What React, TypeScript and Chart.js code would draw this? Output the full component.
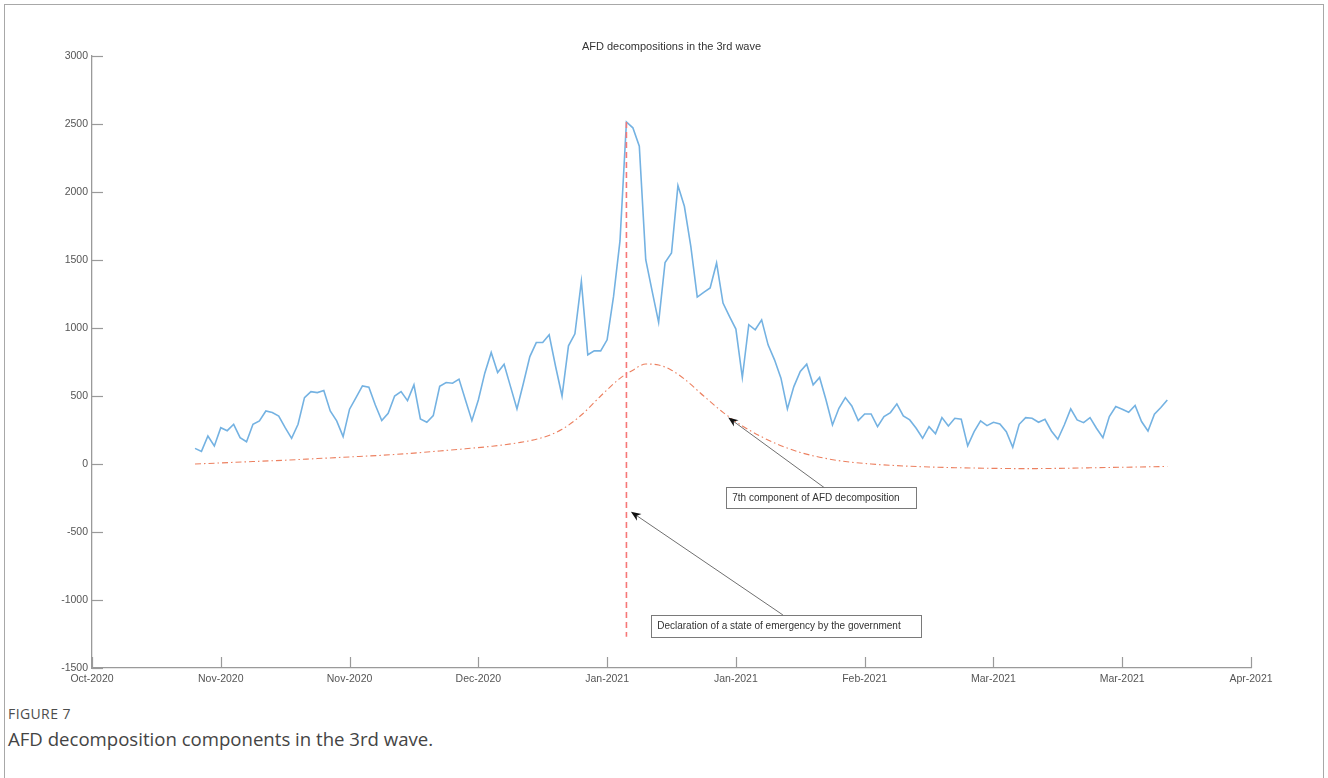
import React, { useEffect, useRef } from "react";
import { Chart, registerables } from "chart.js";

Chart.register(...registerables);

// ---- data ----
const tickLabels = [
  "Oct-2020", "Nov-2020", "Nov-2020", "Dec-2020", "Jan-2021",
  "Jan-2021", "Feb-2021", "Mar-2021", "Mar-2021", "Apr-2021",
];
const daysPerTick = 20;
const firstDay = 16;

// daily new cases, one value per day starting at firstDay
const dailyCases = [
  115, 93, 206, 133, 267, 245, 292, 194, 164, 292,
  317, 390, 378, 353, 267, 189, 292, 488, 532, 525,
  540, 390, 317, 201, 403, 488, 574, 565, 434, 319,
  373, 500, 532, 466, 582, 331, 307, 356, 572, 599,
  594, 624, 471, 319, 471, 668, 820, 673, 734, 569,
  405, 594, 790, 893, 893, 950, 717, 500, 869, 957,
  1342, 803, 832, 832, 913, 1232, 1640, 2515, 2472, 2337,
  1502, 1269, 1041, 1482, 1551, 2047, 1895, 1600, 1227, 1262,
  1294, 1478, 1183, 1085, 992, 636, 1024, 987, 1060, 876,
  766, 631, 405, 569, 680, 734, 582, 636, 471, 287,
  410, 488, 427, 319, 368, 368, 275, 349, 378, 442,
  353, 324, 263, 189, 275, 223, 341, 280, 336, 329,
  133, 238, 317, 282, 307, 295, 238, 123, 292, 341,
  336, 307, 329, 243, 182, 287, 405, 324, 304, 341,
  263, 194, 349, 422, 403, 381, 430, 312, 243, 366,
  415, 471,
];

// 7th AFD component (smooth trend)
const componentDays = [
  16, 20, 25, 30, 35, 40, 45, 50, 54, 58, 62, 66, 70, 73, 76, 79, 82, 84,
  86, 88, 90, 92, 95, 98, 101, 104, 107, 110, 113, 117, 121, 125, 130, 135,
  140, 145, 150, 155, 160, 167,
];
const componentValues = [
  0, 8, 18, 28, 40, 52, 64, 80, 96, 112, 130, 155, 195, 255, 360, 500, 630, 690,
  735, 728, 690, 625, 500, 380, 280, 200, 135, 85, 50, 18, 0, -12, -22, -28,
  -32, -34, -32, -28, -24, -18,
];

// declaration of the state of emergency
const emergencyDay = 83;
const emergencyRange = [2515, -1270];

const yMin = -1500;
const yMax = 3000;
const yStep = 500;

const titleText = "AFD decompositions in the 3rd wave";

// callouts, positioned in axis units (day, value)
const notes = [
  {
    text: "7th component of AFD decomposition",
    box: { x0: 98.5, x1: 128.05, yTop: -171, yBottom: -329 },
    from: { x: 113.7, y: -173 },
    to: { x: 98.8, y: 342 },
  },
  {
    text: "Declaration of a state of emergency by the government",
    box: { x0: 86.85, x1: 128.8, yTop: -1110, yBottom: -1270 },
    from: { x: 107.3, y: -1110 },
    to: { x: 83.7, y: -351 },
  },
];

const FONT = "'Liberation Sans', Arial, Helvetica, sans-serif";
const AXIS_COLOR = "#9a9a9a";
const TICK_TEXT = "#555555";

const overlayPlugin = {
  id: "overlay",
  afterDraw(chart: any) {
    const { ctx, chartArea, scales } = chart;
    const x = scales.x;
    const y = scales.y;
    ctx.save();

    // inward tick marks
    ctx.strokeStyle = AXIS_COLOR;
    ctx.lineWidth = 1.2;
    const tickLen = 11;
    y.ticks.forEach((t: any) => {
      const py = Math.round(y.getPixelForValue(t.value)) + 0.5;
      ctx.beginPath();
      ctx.moveTo(chartArea.left, py);
      ctx.lineTo(chartArea.left + tickLen, py);
      ctx.stroke();
    });
    x.ticks.forEach((t: any) => {
      const px = Math.round(x.getPixelForValue(t.value)) + 0.5;
      ctx.beginPath();
      ctx.moveTo(px, chartArea.bottom);
      ctx.lineTo(px, chartArea.bottom - tickLen);
      ctx.stroke();
    });

    // title
    ctx.fillStyle = "#333333";
    ctx.font = `11px ${FONT}`;
    ctx.textAlign = "center";
    ctx.textBaseline = "middle";
    ctx.fillText(titleText, (chartArea.left + chartArea.right) / 2, chartArea.top - 9);

    // callouts
    notes.forEach((n) => {
      const bx0 = x.getPixelForValue(n.box.x0);
      const bx1 = x.getPixelForValue(n.box.x1);
      const by0 = y.getPixelForValue(n.box.yTop);
      const by1 = y.getPixelForValue(n.box.yBottom);
      ctx.fillStyle = "#ffffff";
      ctx.fillRect(bx0, by0, bx1 - bx0, by1 - by0);
      ctx.strokeStyle = "#7a7a7a";
      ctx.lineWidth = 1;
      ctx.strokeRect(Math.round(bx0) + 0.5, Math.round(by0) + 0.5, Math.round(bx1 - bx0), Math.round(by1 - by0));
      ctx.fillStyle = "#333333";
      ctx.font = `10px ${FONT}`;
      ctx.textAlign = "left";
      ctx.textBaseline = "middle";
      ctx.fillText(n.text, bx0 + 6, (by0 + by1) / 2 + 0.5);

      const fx = x.getPixelForValue(n.from.x);
      const fy = y.getPixelForValue(n.from.y);
      const tx = x.getPixelForValue(n.to.x);
      const ty = y.getPixelForValue(n.to.y);
      const ang = Math.atan2(ty - fy, tx - fx);
      const headLen = 10;
      const headHalf = 4;
      const notch = 3;
      ctx.strokeStyle = "#6f6f6f";
      ctx.lineWidth = 1;
      ctx.beginPath();
      ctx.moveTo(fx, fy);
      ctx.lineTo(tx - Math.cos(ang) * (headLen - notch), ty - Math.sin(ang) * (headLen - notch));
      ctx.stroke();
      // arrow head
      const cos = Math.cos(ang);
      const sin = Math.sin(ang);
      const bx = tx - cos * headLen;
      const by = ty - sin * headLen;
      ctx.fillStyle = "#111111";
      ctx.beginPath();
      ctx.moveTo(tx, ty);
      ctx.lineTo(bx - sin * headHalf, by + cos * headHalf);
      ctx.lineTo(tx - cos * (headLen - notch), ty - sin * (headLen - notch));
      ctx.lineTo(bx + sin * headHalf, by - cos * headHalf);
      ctx.closePath();
      ctx.fill();
    });

    ctx.restore();
  },
};

export default function App() {
  const canvasRef = useRef<HTMLCanvasElement | null>(null);

  useEffect(() => {
    const canvas = canvasRef.current;
    if (!canvas) return;

    const casePoints = dailyCases.map((v, i) => ({ x: firstDay + i, y: v }));
    const componentPoints = componentDays.map((d, i) => ({ x: d, y: componentValues[i] }));
    const emergencyPoints = emergencyRange.map((v) => ({ x: emergencyDay, y: v }));

    const chart = new Chart(canvas, {
      type: "line",
      data: {
        datasets: [
          {
            label: "Daily cases",
            data: casePoints,
            borderColor: "rgb(116,178,226)",
            borderWidth: 1.6,
            pointRadius: 0,
            tension: 0,
            order: 3,
          },
          {
            label: "7th component",
            data: componentPoints,
            borderColor: "rgb(236,128,96)",
            borderWidth: 1.1,
            borderDash: [6, 3, 1.5, 3],
            pointRadius: 0,
            cubicInterpolationMode: "monotone",
            order: 2,
          },
          {
            label: "State of emergency",
            data: emergencyPoints,
            borderColor: "rgb(246,120,120)",
            borderWidth: 1.6,
            borderDash: [6, 4],
            pointRadius: 0,
            order: 1,
          },
        ],
      },
      options: {
        animation: false,
        responsive: false,
        events: [],
        layout: { padding: { left: 0, right: 77, top: 56, bottom: 0 } },
        plugins: {
          legend: { display: false },
          tooltip: { enabled: false },
          title: { display: false },
        },
        scales: {
          x: {
            type: "linear",
            min: 0,
            max: daysPerTick * (tickLabels.length - 1),
            grid: { display: false, drawTicks: false },
            border: { display: true, color: AXIS_COLOR, width: 1.3 },
            ticks: {
              stepSize: daysPerTick,
              autoSkip: false,
              maxRotation: 0,
              padding: 5,
              color: TICK_TEXT,
              font: { family: FONT, size: 10.5 },
              callback: (v: any) => tickLabels[Math.round(Number(v) / daysPerTick)] ?? "",
            },
            afterFit: (s: any) => {
              s.height = 32;
            },
          },
          y: {
            min: yMin,
            max: yMax,
            grid: { display: false, drawTicks: false },
            border: { display: true, color: AXIS_COLOR, width: 1.3 },
            ticks: {
              stepSize: yStep,
              padding: 4,
              color: TICK_TEXT,
              font: { family: FONT, size: 10.5 },
              callback: (v: any) => String(v),
            },
            afterFit: (s: any) => {
              s.width = 92;
            },
          },
        },
      },
      plugins: [overlayPlugin],
    });

    return () => chart.destroy();
  }, []);

  return (
    <div
      style={{
        position: "absolute",
        left: 0,
        top: 0,
        width: 1328,
        height: 778,
        overflow: "hidden",
        background: "#ffffff",
      }}
    >
      <div
        style={{
          position: "absolute",
          left: 4,
          top: 4,
          width: 1320,
          height: 774,
          boxSizing: "border-box",
          border: "1.5px solid #a8a8a8",
          borderBottom: "none",
        }}
      />
      <canvas
        ref={canvasRef}
        width={1328}
        height={700}
        style={{ position: "absolute", left: 0, top: 0, width: 1328, height: 700 }}
      />
      <div
        style={{
          position: "absolute",
          left: 8,
          top: 707,
          fontFamily: "'Open Sans', sans-serif",
          fontSize: 14,
          lineHeight: "14px",
          color: "#4d4d4d",
          letterSpacing: 0.4,
        }}
      >
        FIGURE 7
      </div>
      <div
        style={{
          position: "absolute",
          left: 8,
          top: 729,
          fontFamily: "'Open Sans', sans-serif",
          fontSize: 18.6,
          lineHeight: "19px",
          color: "#444444",
        }}
      >
        AFD decomposition components in the 3rd wave.
      </div>
    </div>
  );
}
